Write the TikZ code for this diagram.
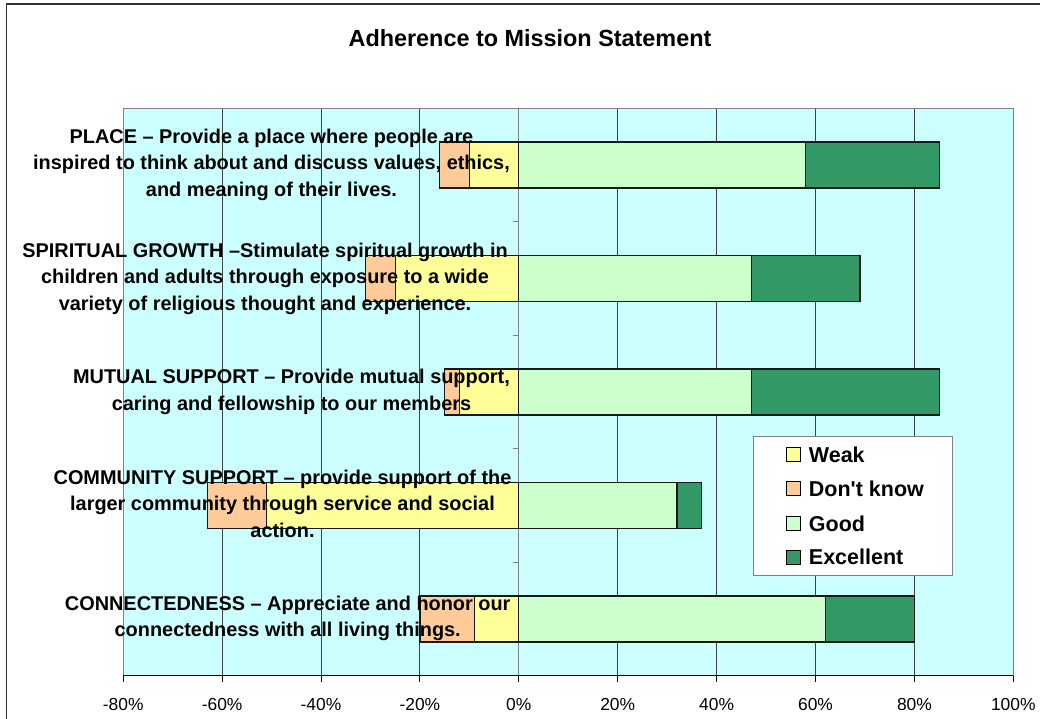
\documentclass[tikz,border=0pt]{standalone}
\usepackage{fontspec}
\setmainfont{Liberation Sans}
\definecolor{plotbg}{HTML}{CCFFFF}
\definecolor{weakc}{HTML}{FFFF99}
\definecolor{dkc}{HTML}{FFCC99}
\definecolor{goodc}{HTML}{CCFFCC}
\definecolor{excc}{HTML}{339966}
\definecolor{gridc}{HTML}{404040}
\definecolor{borderc}{HTML}{808080}
\tikzset{
  framestyle/.style={draw=black!80, line width=1.5pt},
  gridline/.style={draw=gridc, line width=1pt},
  plotborder/.style={draw=borderc, line width=1pt},
  axisline/.style={draw=black, line width=1pt},
  barbox/.style={draw=black!90, line width=1.2pt},
  catlabel/.style={font=\fontsize{19.9}{26.5}\selectfont\bfseries, align=center, inner sep=0pt, anchor=center},
  ticklabel/.style={font=\fontsize{17.4}{20}\selectfont, inner sep=0pt, anchor=base},
  legtext/.style={font=\fontsize{21.5}{24}\selectfont\bfseries, inner sep=0pt, anchor=base west},
  legsq/.style={draw=black, line width=1pt, minimum size=14pt, inner sep=0pt},
  titlestyle/.style={font=\fontsize{23.4}{28}\selectfont\bfseries, inner sep=0pt, anchor=base}
}
\newcommand{\catbar}[5]{%
  \fill[dkc] ({#2},{#1-23}) rectangle ({#3},{#1+23});
  \fill[weakc] ({#3},{#1-23}) rectangle (0,{#1+23});
  \fill[goodc] (0,{#1-23}) rectangle ({#4},{#1+23});
  \fill[excc] ({#4},{#1-23}) rectangle ({#5},{#1+23});
  \draw[barbox] ({#2},{#1-23}) rectangle ({#3},{#1+23});
  \draw[barbox] ({#3},{#1-23}) rectangle (0,{#1+23});
  \draw[barbox] (0,{#1-23}) rectangle ({#4},{#1+23});
  \draw[barbox] ({#4},{#1-23}) rectangle ({#5},{#1+23});
}
\begin{document}
\begin{tikzpicture}[x=1pt,y=-1pt]
\useasboundingbox (0,0) rectangle (1040,719);
\fill[white] (0,0) rectangle (1040,719);
\draw[framestyle] (6.7,740) -- (6.7,4) -- (1060,4);
\node[titlestyle] (title) at (530,46.7) {Adherence to Mission Statement};
\begin{scope}[x=4.945pt, shift={(518.8pt,0pt)}]
  \fill[plotbg] (-80,108.3) rectangle (100,675.7);
  \foreach \p in {-60,-40,-20,20,40,60,80}
    \draw[gridline] (\p,108.3) -- (\p,675.7);
  \draw[plotborder] (-80,675.7) -- (-80,108.3) -- (100,108.3) -- (100,675.7);
  \draw[plotborder] (0,108.3) -- (0,675.7);
  \foreach \k in {0,...,5}
    \draw[plotborder] (0,{108.3+113.5*\k}) -- ++(-6.3pt,0pt);
  \catbar{165.05}{-16}{-10}{58}{85}
  \catbar{278.55}{-31}{-25}{47}{69}
  \catbar{392.05}{-15}{-12}{47}{85}
  \catbar{505.55}{-63}{-51}{32}{37}
  \catbar{619.05}{-20}{-9}{62}{80}
  \draw[axisline] (-80,675.7) -- (100,675.7);
  \foreach \p [count=\i] in {-80,-60,-40,-20,0,20,40,60,80,100} {
    \draw[axisline] (\p,675.7) -- (\p,681.7);
    \node[ticklabel] (tick\i) at (\p,710) {\p\%};
  }
\end{scope}
\node[catlabel] (lplace) at (271.5,164.5) {PLACE -- Provide a place where people are\\inspired to think about and discuss values, ethics,\\and meaning of their lives.};
\node[catlabel] (lspirit) at (265,278.8) {SPIRITUAL GROWTH --Stimulate spiritual growth in\\children and adults through exposure to a wide\\variety of religious thought and experience.};
\node[catlabel] (lmutual) at (291.5,392.1) {MUTUAL SUPPORT -- Provide mutual support,\\caring and fellowship to our members};
\node[catlabel] (lcomm) at (282.5,503.8) {COMMUNITY SUPPORT -- provide support of the\\larger community through service and social\\action.};
\node[catlabel] (lconn) at (287.7,618.3) {CONNECTEDNESS -- Appreciate and honor our\\connectedness with all living things.};
\draw[plotborder, fill=white] (753.3,436.3) rectangle (952.3,575.7);
\node[legsq, fill=weakc] (sqweak) at (793.9,454.7) {};
\node[legsq, fill=dkc] (sqdk) at (793.9,488.2) {};
\node[legsq, fill=goodc] (sqgood) at (793.9,523.3) {};
\node[legsq, fill=excc] (sqexc) at (793.9,557.2) {};
\node[legtext] (tweak) at (808.7,462.3) {Weak};
\node[legtext] (tdk) at (808.7,496.7) {Don\textquotesingle t know};
\node[legtext] (tgood) at (808.7,531) {Good};
\node[legtext] (texc) at (808.7,564) {Excellent};
\end{tikzpicture}
\end{document}
